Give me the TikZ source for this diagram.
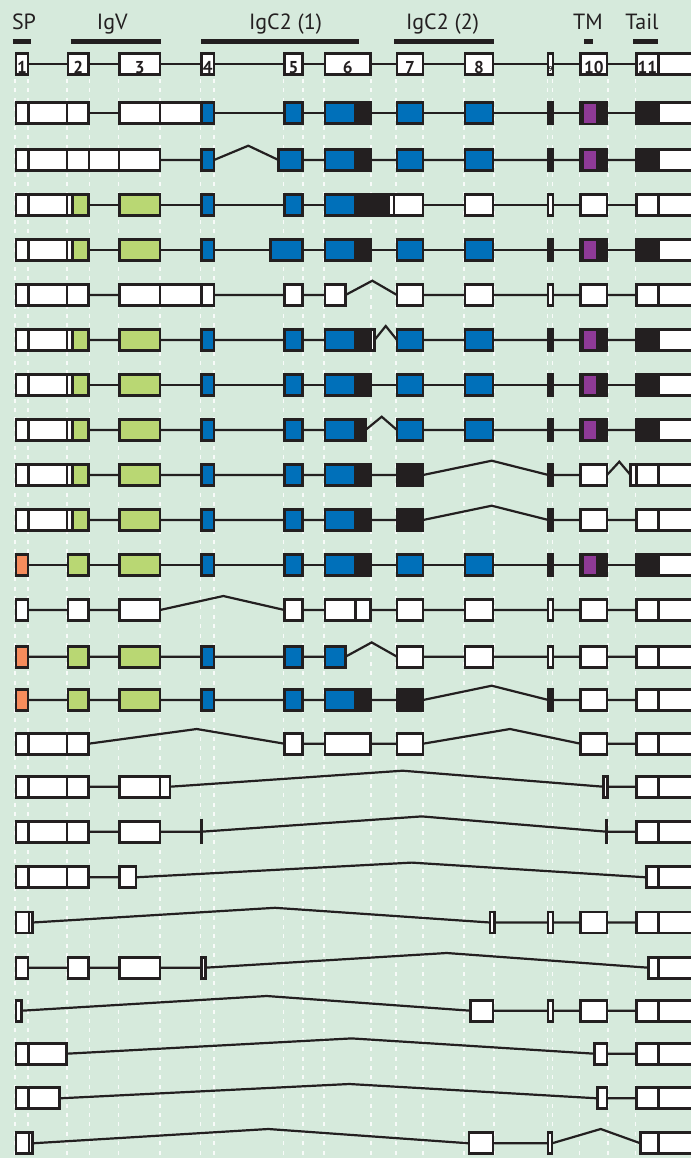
\documentclass[tikz,border=0pt]{standalone}
\usepackage{fontspec}
\setmainfont{PT Sans}
\definecolor{Canvas}{HTML}{D6EADC}
\definecolor{Ink}{HTML}{231F20}
\definecolor{ExBlue}{HTML}{0070BA}
\definecolor{ExGreen}{HTML}{B9D773}
\definecolor{ExOrange}{HTML}{F68C5C}
\definecolor{ExPurple}{HTML}{8E3A96}
\tikzset{exon/.style={draw=Ink,line width=1.4pt},intron/.style={draw=Ink,line width=1.1pt},guide/.style={draw=white,opacity=.85,line width=.8pt,dash pattern=on 2pt off 2.7pt},domainbar/.style={draw=Ink,line width=2.25pt},lab/.style={font=\fontsize{11}{12}\selectfont,text=Ink,anchor=base,inner sep=0pt},num/.style={font=\fontsize{8.6}{9}\selectfont\bfseries,text=Ink,anchor=base,inner sep=0pt},stopbar/.style={draw=Ink,line width=1.6pt}}
\newcommand{\exn}[3][white]{\draw[exon,fill=#1] (#2,-10.5) rectangle (#3,10.5);}
\newcommand{\rw}[2]{\begin{scope}[shift={(0,#1)}]#2\end{scope}}
% pieces that come back in many transcripts
\newcommand{\headW}{\exn{16}{28.8}\exn{28.8}{67}\exn{67}{88.5}}
\newcommand{\headG}{\exn{16}{28.8}\exn{28.8}{67}\exn{67}{72.3}\exn[ExGreen]{72.3}{88.5}\exn[ExGreen]{119.5}{160}\exn[ExBlue]{201.5}{214}}
\newcommand{\headO}{\exn[ExOrange]{16}{28}\exn[ExGreen]{68}{88.5}\exn[ExGreen]{119.5}{160}\exn[ExBlue]{201.5}{214}}
\newcommand{\fiveB}{\exn[ExBlue]{284.5}{302.5}}
\newcommand{\sixB}{\exn[ExBlue]{325}{355.7}\exn[Ink]{355.7}{370.5}}
\newcommand{\tailW}{\exn{636.5}{658.3}\exn{658.3}{700}}
\newcommand{\tailR}{\exn[Ink]{548.5}{552.5}\exn{580.5}{607}\tailW}
\newcommand{\tailNC}{\exn{465}{493}\exn{548}{553}\exn{580.5}{607}\tailW}
\newcommand{\tailC}{\exn[ExBlue]{397}{423}\exn[ExBlue]{465}{493}\exn[Ink]{548.5}{552.5}\exn[Ink]{580.5}{607}\fill[ExPurple] (583.7,-9.2) rectangle (595.6,9.2);\exn[Ink]{636.5}{658.3}\exn{658.3}{700}}

\begin{document}
\begin{tikzpicture}[x=0.5pt,y=-0.5pt]
\useasboundingbox (0,0) rectangle (691,1158);
\clip (0,0) rectangle (691,1158);
\fill[Canvas] (0,0) rectangle (691,1158);
\foreach \gx in {15,27.7,66.7,89.3,118.3,159.7,200.3,213.7,283.3,302.7,324,370.7,395.7,423,463.7,493.7,547.3,552.3,579.3,607.7,635.3} \draw[guide] (\gx,79) -- (\gx,1158);

% domains
\foreach \a/\b/\lx/\t/\nm in {12.7/30.7/24/SP/sp,70.7/160.7/112.3/IgV/igv,201.3/359/285.5/IgC2 (1)/igcA,394/494.3/442.5/IgC2 (2)/igcB,584.3/592.7/588/TM/tm,633.3/657.7/642/Tail/tail}{\draw[domainbar] (\a,41.7) -- (\b,41.7);\node[lab] (\nm) at (\lx,29.5) {\t};}

% exon map
\rw{64}{\draw[intron] (16,0) -- (700,0);
\foreach \a/\b/\n in {16/28/1,68/88.5/2,119.5/160/3,201.5/214/4,284.5/302.5/5,325/370.5/6,397/423/7,465/493/8,580.5/607/10,636.5/658.3/11}{\exn{\a}{\b}\node[num] (n\n) at ({(\a+\b)/2},9) {\n};}
\exn{658.3}{700}\exn{548}{553}\node[num,font=\fontsize{3.5}{4}\selectfont\bfseries] (n9) at (550.5,7) {9};}

% transcripts
\rw{113.3}{\draw[intron] (16,0) -- (700,0);\headW\exn{119.5}{160}\exn{160}{201.5}\exn[ExBlue]{201.5}{214}\fiveB\sixB\tailC}
\rw{160}{\draw[intron] (16,0) -- (214,0) -- (248.3,-14.3) -- (278.5,0) -- (700,0);\exn{16}{28.8}\exn{28.8}{67}\exn{67}{89}\exn{89}{119}\exn{119}{160}\exn[ExBlue]{201.5}{214}\exn[ExBlue]{278.5}{302.5}\sixB\tailC}
\rw{205}{\draw[intron] (16,0) -- (700,0);\headG\fiveB\exn[ExBlue]{325}{355.7}\exn[Ink]{355.7}{388.3}\exn{388.3}{394}\exn{394}{423}\tailNC}
\rw{250}{\draw[intron] (16,0) -- (700,0);\headG\exn[ExBlue]{270.5}{302.5}\sixB\tailC}
\rw{295}{\draw[intron] (16,0) -- (345.5,0) -- (372.3,-14.3) -- (397,0) -- (700,0);\headW\exn{119.5}{160}\exn{160}{201.7}\exn{201.7}{214}\exn{284.5}{302.5}\exn{325}{345.5}\exn{397}{423}\tailNC}
\rw{340}{\draw[intron] (16,0) -- (374.5,0) -- (385.7,-14) -- (397,0) -- (700,0);\headG\fiveB\exn[ExBlue]{325}{355.7}\exn[Ink]{355.7}{371}\exn{371}{374.5}\tailC}
\rw{385}{\draw[intron] (16,0) -- (700,0);\headG\fiveB\sixB\tailC}
\rw{430}{\draw[intron] (16,0) -- (365.5,0) -- (381.7,-13.3) -- (397,0) -- (700,0);\headG\fiveB\exn[ExBlue]{325}{355.7}\exn[Ink]{355.7}{365.5}\tailC}
\rw{475}{\draw[intron] (16,0) -- (423,0) -- (491.7,-14.3) -- (548.5,0) -- (607,0) -- (619.3,-13.3) -- (630.5,0) -- (700,0);\headG\fiveB\sixB\exn[Ink]{397}{423}\exn[Ink]{548.5}{552.5}\exn{580.5}{607}\exn{630.5}{636.5}\tailW}
\rw{520}{\draw[intron] (16,0) -- (423,0) -- (491.7,-14.3) -- (548.5,0) -- (700,0);\headG\fiveB\sixB\exn[Ink]{397}{423}\tailR}
\rw{565}{\draw[intron] (16,0) -- (700,0);\headO\fiveB\sixB\tailC}
\rw{610}{\draw[intron] (16,0) -- (160,0) -- (223.3,-14) -- (284.5,0) -- (700,0);\exn{16}{28}\exn{68}{88.5}\exn{119.5}{160}\exn{284.5}{302.5}\exn{325}{355.7}\exn{355.7}{370.5}\exn{397}{423}\tailNC}
\rw{656.7}{\draw[intron] (16,0) -- (345.5,0) -- (371.7,-14.3) -- (397,0) -- (700,0);\headO\fiveB\exn[ExBlue]{325}{345.5}\exn{397}{423}\tailNC}
\rw{700}{\draw[intron] (16,0) -- (423,0) -- (491.7,-14.3) -- (548.5,0) -- (700,0);\headO\fiveB\sixB\exn[Ink]{397}{423}\tailR}
\rw{743.7}{\draw[intron] (16,0) -- (88.5,0) -- (196.7,-14.7) -- (284.5,0) -- (423,0) -- (510,-14.7) -- (580.5,0) -- (700,0);\headW\exn{284.5}{302.5}\exn{325}{370.5}\exn{397}{423}\exn{580.5}{607}\tailW}
\rw{786.7}{\draw[intron] (16,0) -- (170,0) -- (402.7,-16) -- (603.3,0) -- (700,0);\headW\exn{119.5}{160}\exn{160}{170}\exn{603.3}{607.5}\tailW}
\rw{831.7}{\draw[intron] (16,0) -- (201.3,0) -- (421.7,-15.3) -- (606.7,0) -- (700,0);\headW\exn{119.5}{160}\draw[stopbar] (201.3,-13) -- (201.3,12.5);\draw[stopbar] (606.7,-13) -- (606.7,12.5);\tailW}
\rw{877.3}{\draw[intron] (16,0) -- (136,0) -- (411.7,-14.7) -- (646.2,0) -- (700,0);\headW\exn{119.5}{136}\exn{646.2}{658.3}\exn{658.3}{700}}
\rw{922.5}{\draw[intron] (16,0) -- (32.5,0) -- (275,-14.7) -- (490,0) -- (700,0);\exn{16}{29}\exn{29}{32.5}\exn{490}{494.5}\exn{548}{553}\exn{580.5}{607}\tailW}
\rw{967.7}{\draw[intron] (16,0) -- (205,0) -- (446.7,-14.7) -- (648.5,0) -- (700,0);\exn{16}{28}\exn{68}{88.5}\exn{119.5}{160}\exn{201.5}{205.5}\exn{648.5}{658.3}\exn{658.3}{700}}
\rw{1010.7}{\draw[intron] (16,0) -- (21.5,0) -- (266.7,-14.7) -- (470.5,0) -- (700,0);\exn{16}{21.5}\exn{470.5}{493}\exn{548}{553}\exn{580.5}{607}\tailW}
\rw{1053.7}{\draw[intron] (16,0) -- (66.5,0) -- (351.7,-15.3) -- (594.5,0) -- (700,0);\exn{16}{28.8}\exn{28.8}{66.5}\exn{594.5}{607}\tailW}
\rw{1098.3}{\draw[intron] (16,0) -- (59.8,0) -- (349.3,-14.3) -- (597.2,0) -- (700,0);\exn{16}{28.8}\exn{28.8}{59.8}\exn{597.2}{607}\tailW}
\rw{1143.3}{\draw[intron] (16,0) -- (32.5,0) -- (268.3,-14.3) -- (469,0) -- (552,0) -- (600.7,-14.3) -- (640.5,0) -- (700,0);\exn{16}{29}\exn{29}{32.5}\exn{469}{493}\exn{548}{552}\exn{640.5}{658.3}\exn{658.3}{700}}
\end{tikzpicture}
\end{document}
